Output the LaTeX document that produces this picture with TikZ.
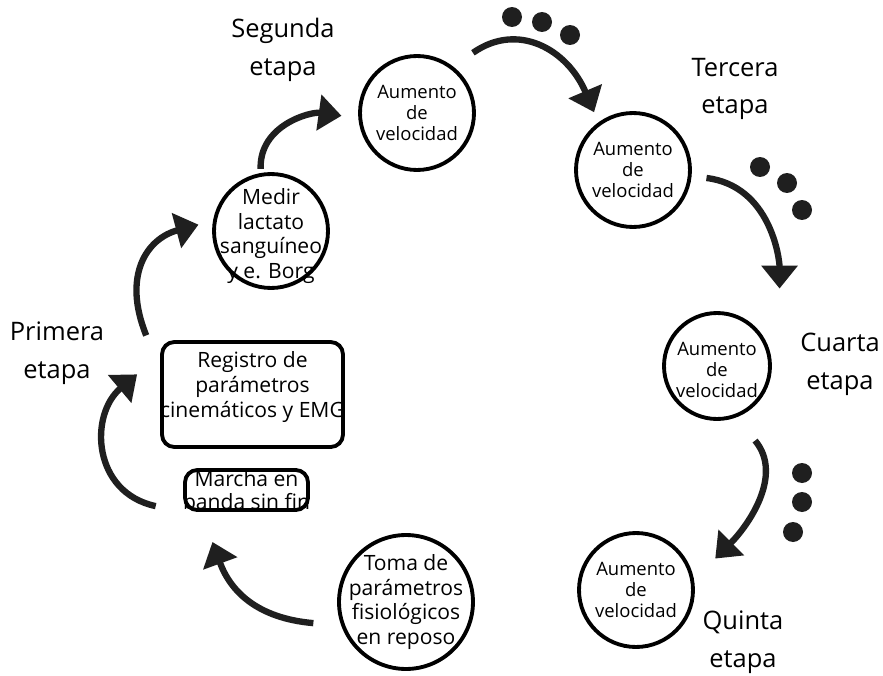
\documentclass[tikz,border=0pt]{standalone}
\usepackage{fontspec}
\setmainfont{Open Sans}
\usetikzlibrary{arrows.meta}

\begin{document}
\begin{tikzpicture}[
  x=0.02cm, y=-0.02cm,
  stage/.style = {circle,draw,line width=2.2pt,minimum size=2.28cm,inner sep=0pt},
  regbox/.style = {draw,line width=2.2pt,rounded corners=7pt,inner sep=0pt},
  speed/.style = {align=center,font=\fontsize{10.5}{12}\selectfont},
  note/.style = {align=center,font=\fontsize{12}{14.2}\selectfont},
  etapa/.style = {align=center,font=\fontsize{14.5}{21.5}\selectfont},
  flow/.style = {line width=3.6pt,color=black!88,-{Triangle[length=13pt,width=20pt]}},
  dot/.style = {fill=black!88}
]

  \useasboundingbox (0,0) rectangle (883,676);

  % first stage
  \node[stage,minimum size=2.68cm,label={[note]center:Toma de\\parámetros\\fisiológicos\\en reposo}] (toma) at (406,602) {};
  \node[regbox,minimum width=2.46cm,minimum height=0.8cm,label={[note,font=\fontsize{12}{13}\selectfont]center:Marcha en\\banda sin fin}] (marcha) at (246.5,490) {};
  \node[regbox,minimum width=3.62cm,minimum height=2.1cm,label={[note,yshift=0.15cm]center:Registro de\\parámetros\\cinemáticos y EMG}] (reg) at (252.5,394.5) {};
  \node[stage,label={[note,yshift=-0.1cm]center:Medir\\lactato\\sanguíneo\\y e. Borg}] (medir) at (271,231) {};

  % speed steps
  \node[stage,label={[speed]center:Aumento\\de\\velocidad}] (seg) at (417,113) {};
  \node[stage,label={[speed]center:Aumento\\de\\velocidad}] (ter) at (633,170) {};
  \node[stage,minimum size=2.12cm,label={[speed,yshift=-0.08cm]center:Aumento\\de\\velocidad}] (cua) at (717,366) {};
  \node[stage,label={[speed]center:Aumento\\de\\velocidad}] (qui) at (636,590) {};

  \node[etapa] (lab1) at (57,353) {Primera\\etapa};
  \node[etapa] (lab2) at (283,50) {Segunda\\etapa};
  \node[etapa] (lab3) at (735,89) {Tercera\\etapa};
  \node[etapa] (lab4) at (840,364) {Cuarta\\etapa};
  \node[etapa] (lab5) at (743,642) {Quinta\\etapa};

  \draw[flow,shorten <=0.56cm,shorten >=0.64cm] (toma.200) to[out=175,in=290,looseness=1.2] ([xshift=-0.9cm]marcha.south);
  \draw[flow,shorten <=0.56cm,shorten >=0.6cm] (marcha.south west) to[out=168,in=220,looseness=1.5] ([yshift=-0.3cm]reg.north west);
  \draw[flow,shorten <=0.1cm,shorten >=0.3cm] ([xshift=-0.24cm]reg.north west) to[out=112,in=195,looseness=1.3] (medir.170);
  \draw[flow,shorten <=0.08cm,shorten >=0.34cm] (medir.100) to[out=92,in=172,looseness=1.1] (seg.185);
  \draw[flow,shorten <=0.48cm,shorten >=0.22cm] (seg.52) to[out=35,in=113,looseness=1.3] (ter.126);
  \draw[flow,shorten <=0.3cm,shorten >=1cm] (ter.-6) to[out=-7,in=90,looseness=1.1] ([xshift=0.3cm]cua.30);
  \draw[flow,shorten <=0.6cm,shorten >=0.6cm] (cua.-70) to[out=-50,in=45,looseness=1.15] (qui.10);

  % dots
  \foreach \p in {(512,17),(542,22),(570,35),(760,167),(787,183),(802,210),(802,473),(802,502),(793,532)}
    \fill[dot] \p circle (0.2cm);

\end{tikzpicture}
\end{document}
